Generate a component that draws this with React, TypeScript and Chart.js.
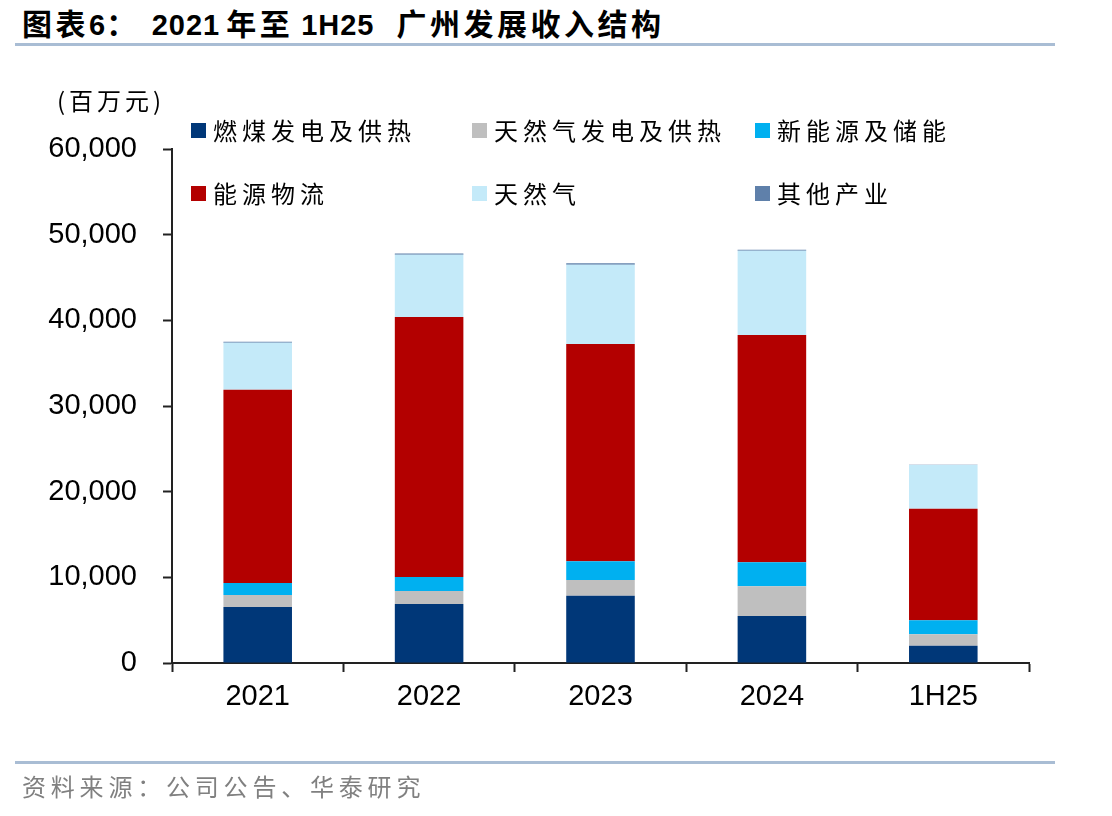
import React, { useEffect, useRef } from "react";
import { Chart, registerables } from "chart.js";

Chart.register(...registerables);

const categories = ["2021", "2022", "2023", "2024", "1H25"];
const coalPower = [6540, 6890, 7860, 5490, 2020];
const gasPower = [1400, 1510, 1830, 3460, 1330];
const newEnergy = [1400, 1640, 2180, 2800, 1630];
const logistics = [22560, 30350, 25370, 26540, 13030];
const naturalGas = [5490, 7270, 9260, 9840, 5100];
const otherBiz = [120, 150, 150, 100, 30];

const seriesNames = ["燃煤发电及供热", "天然气发电及供热", "新能源及储能", "能源物流", "天然气", "其他产业"];
const seriesColors = ["#003778", "#bfbfbf", "#00b0f0", "#b30000", "#c4eaf9", "#5f80aa"];
const seriesData = [coalPower, gasPower, newEnergy, logistics, naturalGas, otherBiz];

const yMin = 0;
const yMax = 60000;
const yStep = 10000;

// title pieces: [text, isCJK, gapBefore]
const titleParts: [string, boolean, number][] = [
  ["图表", true, 0],
  ["6", false, 0],
  ["：", true, 0],
  ["2021", false, 12],
  ["年至", true, 6],
  ["1H25", false, 8],
  ["广州发展收入结构", true, 22],
];
const unitText = "(百万元)";
const sourceText = "资料来源：公司公告、华泰研究";

const CJK = '"Noto Sans CJK SC", "Noto Sans CJK JP", sans-serif';
const LATIN = '"Liberation Sans", Arial, "Noto Sans CJK SC", sans-serif';

const legendPos = [
  { x: 191, y: 122 },
  { x: 472, y: 122 },
  { x: 755, y: 122 },
  { x: 191, y: 185 },
  { x: 472, y: 185 },
  { x: 755, y: 185 },
];

export default function App() {
  const ref = useRef<HTMLCanvasElement | null>(null);

  useEffect(() => {
    if (!ref.current) return;
    const chart = new Chart(ref.current, {
      type: "bar",
      data: {
        labels: categories,
        datasets: seriesData.map((d, i) => ({
          label: seriesNames[i],
          data: d,
          backgroundColor: seriesColors[i],
          borderWidth: 0,
          barPercentage: 0.8,
          categoryPercentage: 0.5,
        })),
      },
      options: {
        responsive: false,
        animation: false,
        maintainAspectRatio: false,
        layout: { padding: { left: 0, top: 149, right: 83, bottom: 0 } },
        plugins: {
          legend: { display: false },
          tooltip: { enabled: false },
          title: { display: false },
        },
        scales: {
          x: {
            stacked: true,
            offset: true,
            grid: {
              offset: true,
              drawOnChartArea: false,
              drawTicks: true,
              tickLength: 9,
              tickWidth: 2,
              tickColor: "#222",
            },
            border: { display: true, color: "#222", width: 2 },
            ticks: {
              color: "#000",
              font: { family: LATIN, size: 29 },
              padding: 8,
              maxRotation: 0,
            },
            afterFit: (s: any) => {
              s.height = 816 - 663;
            },
          },
          y: {
            stacked: true,
            min: yMin,
            max: yMax,
            grid: {
              drawOnChartArea: false,
              drawTicks: true,
              tickLength: 9,
              tickWidth: 2,
              tickColor: "#222",
            },
            border: { display: true, color: "#222", width: 2 },
            ticks: {
              stepSize: yStep,
              color: "#000",
              font: { family: LATIN, size: 29 },
              padding: 26,
              callback: (v: any) => Number(v).toLocaleString("en-US"),
            },
            afterFit: (s: any) => {
              s.width = 172;
            },
          },
        },
      },
    });
    return () => chart.destroy();
  }, []);

  return (
    <div style={{ position: "fixed", left: 0, top: 0, width: 1112, height: 816, background: "#fff", overflow: "hidden" }}>
      <div
        style={{
          position: "absolute",
          left: 22,
          top: 4,
          fontWeight: "bold",
          color: "#000",
          whiteSpace: "pre",
          lineHeight: "36px",
        }}
      >
        {titleParts.map(([t, cjk, gap], i) => (
          <span
            key={i}
            style={{
              display: "inline-block",
              marginLeft: gap,
              fontFamily: cjk ? CJK : LATIN,
              fontSize: cjk ? 30 : 29,
              letterSpacing: cjk ? 3.5 : 1,
            }}
          >
            {t}
          </span>
        ))}
      </div>
      <div style={{ position: "absolute", left: 15, top: 43, width: 1040, height: 3, background: "#a9bdd4" }} />
      <canvas ref={ref} width={1112} height={816} style={{ position: "absolute", left: 0, top: 0, width: 1112, height: 816 }} />
      <div
        style={{
          position: "absolute",
          left: 57,
          top: 84,
          fontFamily: CJK,
          fontSize: 24,
          letterSpacing: 4,
          color: "#000",
          lineHeight: "32px",
          whiteSpace: "pre",
        }}
      >
        {unitText}
      </div>
      {seriesNames.map((n, i) => (
        <div key={n} style={{ position: "absolute", left: legendPos[i].x, top: legendPos[i].y - 8, height: 32, display: "flex", alignItems: "center" }}>
          <div style={{ width: 15, height: 15, background: seriesColors[i], marginRight: 7 }} />
          <div style={{ fontFamily: CJK, fontSize: 24, letterSpacing: 5, color: "#000", whiteSpace: "pre", lineHeight: "32px" }}>{n}</div>
        </div>
      ))}
      <div style={{ position: "absolute", left: 15, top: 761, width: 1040, height: 3, background: "#a9bdd4" }} />
      <div
        style={{
          position: "absolute",
          left: 22,
          top: 770,
          fontFamily: CJK,
          fontSize: 24,
          letterSpacing: 4.8,
          color: "#808080",
          whiteSpace: "pre",
          lineHeight: "32px",
        }}
      >
        {sourceText}
      </div>
    </div>
  );
}
